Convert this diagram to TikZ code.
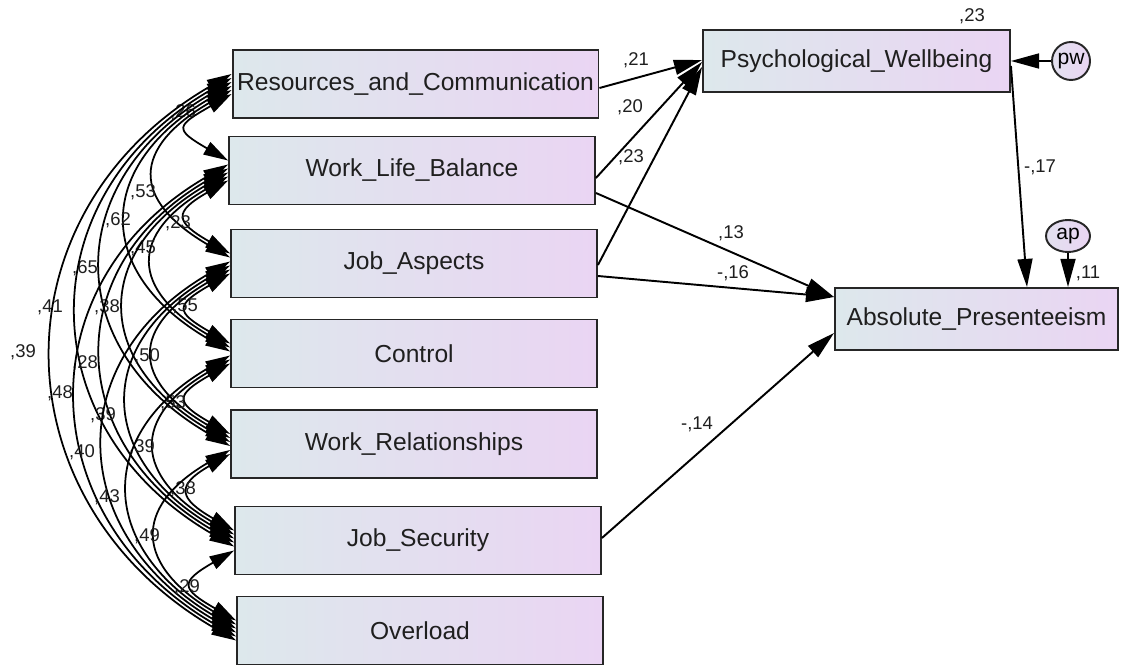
\documentclass[tikz,border=0pt]{standalone}
\usepackage{fontspec}
\setmainfont{Liberation Sans}
\usetikzlibrary{calc,arrows.meta,positioning,shapes.geometric}
\definecolor{boxleft}{RGB}{221,232,236}
\definecolor{boxright}{RGB}{234,213,243}
\definecolor{boxline}{RGB}{38,38,38}
\tikzset{
  gbox/.style ={rectangle, draw=boxline, line width=1.1pt,
                left color=boxleft, right color=boxright, inner sep=0pt,
                font=\fontsize{14}{16}\selectfont, text=black!88},
  gexo/.style ={gbox, minimum width=7.32cm, minimum height=1.36cm},
  gendo/.style={gbox, minimum height=1.24cm},
  gerr/.style ={draw=boxline, line width=1.1pt, left color=boxleft!60!boxright,
                right color=boxright, inner sep=0pt,
                font=\fontsize{12}{14}\selectfont},
  gpath/.style={-{Triangle[length=16pt,width=8.5pt]}, line width=1.1pt},
  gcov/.style ={{Triangle[length=14pt,width=8pt]}-{Triangle[length=14pt,width=8pt]},
                line width=1pt},
  gnum/.style ={font=\fontsize{10.5}{12}\selectfont, inner sep=0pt, text=black!88},
}
\begin{document}
\begin{tikzpicture}[x=0.02cm, y=0.02cm]
  \useasboundingbox[fill=white] (0,0) rectangle (1125,-665);

  % ---- exogenous boxes ----------------------------------------------------
  \node[gexo] (res)  at (415.5,-84)  {Resources\_and\_Communication};
  \node[gexo] (wlb)  at (412,-170.5) {Work\_Life\_Balance};
  \node[gexo] (ja)   at (414,-263.5) {Job\_Aspects};
  \node[gexo] (ctrl) at (414,-353.5) {Control};
  \node[gexo] (wr)   at (414,-444)   {Work\_Relationships};
  \node[gexo] (js)   at (418,-540.5) {Job\_Security};
  \node[gexo] (ov)   at (420,-630.5) {Overload};

  % ---- endogenous boxes and errors ----------------------------------------
  \node[gendo, minimum width=6.14cm] (pwb) at (856.5,-61) {Psychological\_Wellbeing};
  \node[gendo, minimum width=5.66cm] (apb) at (976.5,-319) {Absolute\_Presenteeism};
  \node[gerr, circle, minimum size=0.76cm] (pw) at (1071,-61) {pw};
  \node[gerr, ellipse, minimum width=0.88cm, minimum height=0.64cm] (ap) at (1068,-236) {ap};

  % ---- covariances --------------------------------------------------------
  \foreach \a/\b/\d/\t/\lx/\ly in {
      res/wlb/1/{,26}/183/112, res/ja/2/{,53}/143/192, res/ctrl/3/{,62}/118/220,
      res/wr/4/{,65}/85/268, res/js/5/{,41}/50/307, res/ov/6/{,39}/23/352,
      wlb/ja/1/{,23}/178/223, wlb/ctrl/2/{,45}/143/248, wlb/wr/3/{,38}/107/307,
      wlb/js/4/{,28}/85/363, wlb/ov/5/{,48}/60/393,
      ja/ctrl/1/{,55}/185/306, ja/wr/2/{,50}/147/356, ja/js/3/{,39}/103/415,
      ja/ov/4/{,40}/82/452,
      ctrl/wr/1/{,53}/173/403, ctrl/js/2/{,39}/142/447, ctrl/ov/3/{,43}/107/497,
      wr/js/1/{,38}/183/489, wr/ov/2/{,49}/147/536,
      js/ov/1/{,29}/187/587} {
    \pgfmathsetmacro{\h}{{55,100,137,170,205,240}[\d-1]}
    \pgfmathsetmacro{\v}{0.577*\h}
    \pgfmathsetmacro{\sy}{4*\d-14}
    \pgfmathsetmacro{\ey}{14-4*\d}
    \coordinate (s) at ($(\a.west)+(0,\sy)$);
    \coordinate (e) at ($(\b.west)+(0,\ey)$);
    \draw[gcov] (s) .. controls ($(s)+(-\h,-\v)$) and ($(e)+(-\h,\v)$) .. (e);
    \node[gnum] (c-\a-\b) at (\lx,-\ly) {\t};
  }

  % ---- regressions --------------------------------------------------------
  \draw[gpath] ($(res.east)+(0,-4)$)   -- ($(pwb.west)+(0,1)$);
  \draw[gpath] ($(wlb.east)+(0,-7.5)$) -- ($(pwb.west)+(0,-1)$);
  \draw[gpath] ($(ja.east)+(0,-1.5)$)  -- ($(pwb.west)+(0,-6)$);
  \draw[gpath] ($(wlb.east)+(0,-22.5)$) -- ($(apb.west)+(0,22)$);
  \draw[gpath] ($(ja.east)+(0,-12.5)$) -- ($(apb.west)+(0,22)$);
  \draw[gpath] ($(js.east)+(0,2.5)$)   -- ($(apb.west)+(0,-14)$);
  \draw[gpath] ($(pwb.east)+(0,-5)$)   -- ($(apb.north)+(50.5,0)$);
  \draw[gpath] (pw) -- (pwb.east);
  \draw[gpath] (ap) -- ($(apb.north)+(91.5,0)$);

  \node[gnum] (b-res)  at (636,-60)  {,21};
  \node[gnum] (b-wlb)  at (630,-107) {,20};
  \node[gnum] (b-ja)   at (631,-157) {,23};
  \node[gnum] (b-wlb2) at (731,-233) {,13};
  \node[gnum] (b-ja2)  at (733,-273) {-,16};
  \node[gnum] (b-js)   at (697,-424) {-,14};
  \node[gnum] (b-pw)   at (1040,-167) {-,17};
  \node[gnum] (r-pw)   at (972,-16)  {,23};
  \node[gnum] (r-ap)   at (1088,-273) {,11};
\end{tikzpicture}
\end{document}
